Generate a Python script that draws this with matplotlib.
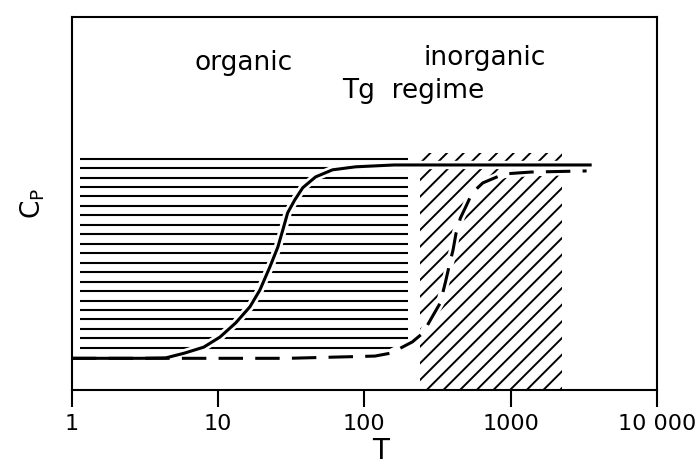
import numpy as np
import matplotlib
matplotlib.use("Agg")
import matplotlib.pyplot as plt

# heat capacity vs temperature
T_organic = [1, 3, 4.37, 5.9, 7.98, 10.3, 13.2, 16.5, 19.3, 22.6, 25.6, 27.7,
             29.9, 33.4, 37.9, 46.4, 60.6, 86.9, 160, 3500]
cp_organic = [0.085, 0.085, 0.086, 0.099, 0.115, 0.142, 0.180, 0.223, 0.268,
              0.330, 0.383, 0.429, 0.475, 0.509, 0.542, 0.571, 0.590, 0.598,
              0.603, 0.603]

T_inorganic = [1, 30, 118, 152, 213, 252, 288, 330, 359, 384, 404, 424, 454,
               494, 546, 646, 904, 1380, 3310]
cp_inorganic = [0.085, 0.085, 0.091, 0.099, 0.129, 0.153, 0.193, 0.233, 0.290,
                0.340, 0.375, 0.421, 0.461, 0.491, 0.528, 0.555, 0.579, 0.584,
                0.587]

# hatched Tg regimes: (T_min, T_max, cp_min, cp_max)
organic_band = (1.13, 199, 0.113, 0.62)
inorganic_band = (240, 2260, 0.0, 0.635)
n_organic_lines = 21

xticks = [1, 10, 100, 1000, 10000]
xticklabels = ["1", "10", "100", "1000", "10 000"]

plt.rcParams["font.family"] = "DejaVu Sans"
plt.rcParams["mathtext.default"] = "regular"
plt.rcParams["hatch.linewidth"] = 1.4

fig = plt.figure(figsize=(6.98, 4.66), dpi=100)
ax = fig.add_axes([0.103, 0.163, 0.838, 0.801])
ax.set_xscale("log")
ax.set_xlim(1, 10000)
ax.set_ylim(0, 1)

# organic: horizontal hatch lines
levels = np.linspace(organic_band[3], organic_band[2], n_organic_lines)
ax.hlines(levels, organic_band[0], organic_band[1], color="black",
          linewidth=1.5, zorder=1)

# inorganic: diagonal hatch
ax.fill_between([inorganic_band[0], inorganic_band[1]], inorganic_band[2],
                inorganic_band[3], facecolor="none", edgecolor="black",
                linewidth=0, hatch="//", zorder=1)

# white halo under curves so the hatching breaks around them
ax.plot(T_organic, cp_organic, color="white", linewidth=6, zorder=2)
ax.plot(T_inorganic[3:], cp_inorganic[3:], color="white", linewidth=6, zorder=2)

ax.plot(T_organic, cp_organic, color="black", linewidth=2.2, zorder=3)
ax.plot(T_inorganic, cp_inorganic, color="black", linewidth=2.2,
        dashes=(8, 4), zorder=3)

ax.text(15, 0.877, "organic", ha="center", va="center", fontsize=19)
ax.text(660, 0.89, "inorganic", ha="center", va="center", fontsize=19)
ax.text(217, 0.80, "Tg  regime", ha="center", va="center", fontsize=19)

ax.set_xticks(xticks)
ax.set_xticklabels(xticklabels, fontsize=16)
ax.xaxis.set_minor_locator(matplotlib.ticker.NullLocator())
ax.tick_params(axis="x", direction="out", length=12, width=1.5, pad=5)
ax.set_yticks([])
for s in ax.spines.values():
    s.set_linewidth(1.5)

ax.set_xlabel("T", fontsize=20)
ax.xaxis.set_label_coords(0.528, -0.125)
ax.set_ylabel("C$_P$", fontsize=19, labelpad=18)

fig.savefig("out.png", dpi=100)
